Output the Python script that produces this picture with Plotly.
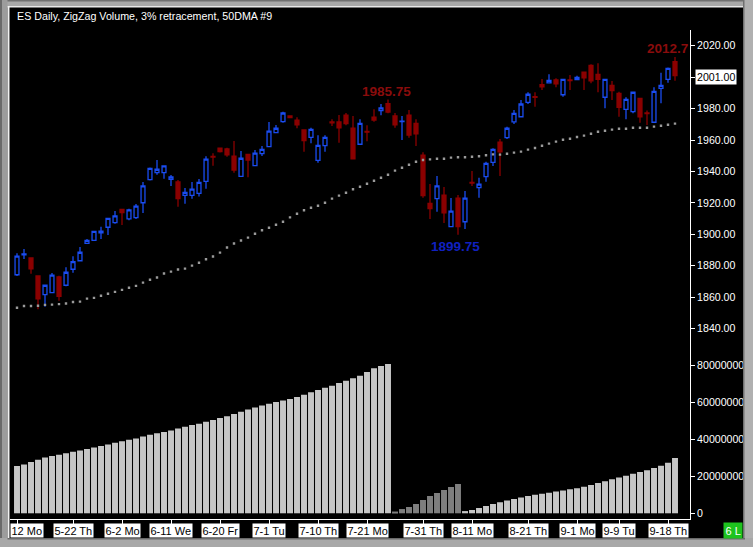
import plotly.graph_objects as go

# ---------------- data ----------------
dates = [
    "2014-05-12", "2014-05-13", "2014-05-14", "2014-05-15", "2014-05-16", "2014-05-19", "2014-05-20",
    "2014-05-21", "2014-05-22", "2014-05-23", "2014-05-26", "2014-05-27", "2014-05-28", "2014-05-29",
    "2014-05-30", "2014-06-02", "2014-06-03", "2014-06-04", "2014-06-05", "2014-06-06", "2014-06-09",
    "2014-06-10", "2014-06-11", "2014-06-12", "2014-06-13", "2014-06-16", "2014-06-17", "2014-06-18",
    "2014-06-19", "2014-06-20", "2014-06-23", "2014-06-24", "2014-06-25", "2014-06-26", "2014-06-27",
    "2014-06-30", "2014-07-01", "2014-07-02", "2014-07-03", "2014-07-04", "2014-07-07", "2014-07-08",
    "2014-07-09", "2014-07-10", "2014-07-11", "2014-07-14", "2014-07-15", "2014-07-16", "2014-07-17",
    "2014-07-18", "2014-07-21", "2014-07-22", "2014-07-23", "2014-07-24", "2014-07-25", "2014-07-28",
    "2014-07-29", "2014-07-30", "2014-07-31", "2014-08-01", "2014-08-04", "2014-08-05", "2014-08-06",
    "2014-08-07", "2014-08-08", "2014-08-11", "2014-08-12", "2014-08-13", "2014-08-14", "2014-08-15",
    "2014-08-18", "2014-08-19", "2014-08-20", "2014-08-21", "2014-08-22", "2014-08-25", "2014-08-26",
    "2014-08-27", "2014-08-28", "2014-08-29", "2014-09-01", "2014-09-02", "2014-09-03", "2014-09-04",
    "2014-09-05", "2014-09-08", "2014-09-09", "2014-09-10", "2014-09-11", "2014-09-12", "2014-09-15",
    "2014-09-16", "2014-09-17", "2014-09-18", "2014-09-19",
]

opens = [
    1874.3, 1887.0, 1885.0, 1873.5, 1861.6, 1862.9, 1872.9, 1867.6, 1877.8, 1883.2,
    1894.2, 1896.2, 1901.0, 1904.5, 1907.4, 1915.9, 1909.8, 1910.6, 1920.1, 1934.8,
    1939.2, 1939.2, 1935.0, 1933.3, 1924.8, 1924.8, 1926.1, 1933.7, 1949.6, 1954.9,
    1954.3, 1949.8, 1936.9, 1950.9, 1943.7, 1951.3, 1955.8, 1964.7, 1971.7, 1975.3,
    1972.7, 1966.4, 1961.7, 1947.1, 1956.4, 1971.5, 1971.5, 1975.9, 1967.6, 1957.3,
    1965.5, 1974.6, 1978.7, 1983.1, 1975.3, 1971.7, 1975.9, 1970.6, 1950.3, 1919.7,
    1922.7, 1925.0, 1904.9, 1923.1, 1908.0, 1933.0, 1929.7, 1936.7, 1945.8, 1958.7,
    1961.5, 1971.5, 1974.8, 1984.0, 1987.6, 1995.2, 1996.3, 1998.2, 1988.8, 1998.2,
    1998.4, 2003.1, 2007.5, 2001.8, 1987.2, 1994.8, 1989.7, 1979.5, 1978.0, 1986.5,
    1977.2, 1971.3, 1992.9, 1998.6, 2009.8,
]
highs = [
    1888.0, 1890.7, 1885.5, 1874.0, 1868.0, 1875.4, 1873.7, 1879.0, 1886.0, 1892.0,
    1897.0, 1902.0, 1904.9, 1910.5, 1914.8, 1916.0, 1916.3, 1919.3, 1933.3, 1942.5,
    1947.3, 1944.0, 1937.7, 1934.6, 1929.5, 1933.3, 1935.2, 1949.6, 1951.6, 1955.0,
    1955.1, 1959.4, 1953.0, 1951.0, 1953.7, 1956.2, 1971.5, 1969.6, 1978.0, 1975.6,
    1974.5, 1966.6, 1967.8, 1963.0, 1963.0, 1973.2, 1975.9, 1977.2, 1975.3, 1973.2,
    1969.4, 1979.5, 1982.9, 1985.75, 1977.2, 1975.3, 1979.1, 1973.2, 1952.2, 1932.0,
    1937.1, 1930.1, 1923.1, 1925.0, 1927.6, 1940.3, 1936.0, 1946.2, 1954.7, 1960.6,
    1968.5, 1979.1, 1985.5, 1990.4, 1990.4, 1998.8, 2001.8, 1999.3, 1999.0, 2001.4,
    2000.9, 2003.5, 2008.2, 2008.8, 1999.0, 1997.5, 1990.7, 1987.2, 1990.6, 1986.8,
    1978.7, 1993.5, 2002.8, 2006.2, 2012.75,
]
lows = [
    1873.5, 1884.3, 1875.0, 1852.3, 1854.0, 1862.5, 1857.8, 1867.0, 1875.6, 1883.0,
    1894.0, 1895.8, 1897.0, 1899.6, 1906.8, 1905.9, 1909.0, 1909.8, 1913.6, 1934.3,
    1937.9, 1935.4, 1930.8, 1917.6, 1919.5, 1922.7, 1924.0, 1929.0, 1943.7, 1952.0,
    1949.4, 1939.2, 1936.5, 1936.3, 1943.5, 1949.8, 1955.5, 1964.5, 1971.0, 1974.0,
    1967.5, 1952.6, 1957.9, 1945.6, 1952.6, 1968.9, 1958.3, 1969.4, 1947.8, 1957.0,
    1959.2, 1971.7, 1975.7, 1977.0, 1967.8, 1960.0, 1961.5, 1956.2, 1923.3, 1909.8,
    1914.4, 1907.2, 1904.5, 1899.75, 1903.4, 1930.8, 1923.3, 1933.5, 1943.5, 1937.1,
    1960.6, 1970.2, 1974.5, 1982.9, 1981.2, 1991.8, 1996.0, 1993.5, 1987.6, 1991.8,
    1998.0, 1991.8, 1996.1, 1990.4, 1980.2, 1985.5, 1974.8, 1973.2, 1977.0, 1971.0,
    1969.6, 1970.8, 1983.4, 1996.5, 1997.7,
]
closes = [
    1886.2, 1887.5, 1878.1, 1858.9, 1867.6, 1874.1, 1860.6, 1875.9, 1882.6, 1888.6,
    1896.2, 1901.9, 1902.0, 1910.2, 1911.7, 1913.8, 1915.5, 1918.0, 1930.8, 1942.0,
    1941.4, 1943.5, 1936.5, 1922.7, 1926.7, 1928.7, 1933.1, 1947.9, 1949.2, 1952.6,
    1950.5, 1940.9, 1948.4, 1947.3, 1951.6, 1954.1, 1965.7, 1967.5, 1977.2, 1974.2,
    1969.7, 1959.6, 1966.8, 1956.6, 1961.7, 1971.0, 1967.8, 1970.4, 1948.1, 1970.6,
    1965.0, 1972.7, 1980.4, 1977.8, 1969.7, 1972.0, 1963.2, 1964.0, 1924.6, 1916.3,
    1930.8, 1913.6, 1914.8, 1904.9, 1923.1, 1932.6, 1932.0, 1945.2, 1954.1, 1952.4,
    1967.5, 1977.0, 1982.9, 1989.1, 1987.2, 1993.9, 1998.0, 1995.8, 1998.6, 1997.8,
    1999.9, 1999.6, 1997.7, 1998.6, 1998.6, 1991.4, 1980.8, 1985.9, 1990.4, 1974.8,
    1976.8, 1991.0, 1994.8, 2005.6, 2001.0,
]

ma50 = [
    1853.3, 1854.4, 1854.4, 1854.6, 1855.1, 1855.3, 1855.6, 1856.0, 1857.0, 1857.2,
    1859.1, 1859.6, 1860.9, 1862.2, 1863.4, 1864.7, 1866.0, 1867.2, 1869.3, 1871.1,
    1872.5, 1875.1, 1876.3, 1877.6, 1878.2, 1880.1, 1881.9, 1884.2, 1885.9, 1888.4,
    1891.6, 1894.2, 1896.1, 1897.9, 1900.4, 1902.6, 1904.2, 1906.1, 1908.0, 1910.8,
    1913.1, 1915.3, 1916.9, 1918.2, 1920.1, 1922.7, 1924.6, 1926.5, 1928.7, 1930.3,
    1932.2, 1934.1, 1936.0, 1937.9, 1940.5, 1942.4, 1944.3, 1946.2, 1947.3, 1947.7,
    1948.1, 1948.1, 1948.8, 1949.0, 1949.0, 1949.4, 1949.7, 1950.3, 1950.9, 1950.7,
    1951.3, 1952.0, 1952.6, 1953.9, 1954.9, 1956.4, 1957.7, 1959.0, 1960.2, 1960.8,
    1961.9, 1962.8, 1964.0, 1965.3, 1965.9, 1966.6, 1967.2, 1967.2, 1967.8, 1967.8,
    1967.8, 1968.5, 1969.1, 1969.7, 1970.4,
]

# ZigZag cumulative volume (millions of contracts) and swing leg of each bar
zz_volume_m = [
    25.6, 26.5, 27.8, 29.0, 30.2, 31.0, 31.8, 32.6, 33.4, 34.0,
    34.8, 35.6, 36.5, 37.3, 38.2, 39.0, 39.8, 40.6, 41.6, 42.6,
    43.4, 44.1, 44.9, 46.0, 46.9, 47.8, 48.6, 49.6, 50.6, 51.6,
    52.6, 53.8, 55.0, 56.2, 57.4, 58.4, 59.4, 60.3, 61.2, 62.0,
    63.0, 64.3, 65.6, 66.8, 68.0, 69.2, 70.6, 71.8, 73.2, 74.6,
    76.6, 78.6, 79.8, 80.9,
    0.7, 2.3, 3.4, 5.0, 7.2, 9.4, 11.0, 12.6, 14.3, 15.9,
    1.2, 1.8, 2.9, 4.0, 5.0, 6.0, 7.0, 7.8, 8.6, 9.4,
    10.0, 10.6, 11.2, 11.8, 12.4, 13.0, 13.6, 14.4, 15.4, 16.4,
    17.4, 18.4, 19.4, 20.4, 21.4, 22.4, 23.4, 24.5, 25.8, 27.4, 30.0,
]
zz_leg = ["up"] * 54 + ["down"] * 10 + ["up"] * 31

tick_dates = ["2014-05-12", "2014-05-22", "2014-06-02", "2014-06-11", "2014-06-20", "2014-07-01",
              "2014-07-10", "2014-07-21", "2014-07-31", "2014-08-11", "2014-08-21", "2014-09-01",
              "2014-09-09", "2014-09-18"]
tick_labels = ["12 Mo", "5-22 Th", "6-2 Mo", "6-11 We", "6-20 Fr", "7-1 Tu", "7-10 Th",
               "7-21 Mo", "7-31 Th", "8-11 Mo", "8-21 Th", "9-1 Mo", "9-9 Tu", "9-18 Th"]

swing_high = ("2014-07-24", 1985.75, "1985.75")
swing_low = ("2014-08-07", 1899.75, "1899.75")
last_high = ("2014-09-19", 2012.75, "2012.7")
last_close = 2001.00
title_text = "ES Daily, ZigZag Volume, 3% retracement, 50DMA #9"

# ---------------- layout helpers ----------------
W, H = 753, 547
ML, MR, MT, MB = 10, 63, 22, 28
PW, PH = W - ML - MR, H - MT - MB


def px_x(px):
    return (px - ML) / PW


def px_y(py):
    return (H - MB - py) / PH


FONT = "Liberation Sans, Arial, sans-serif"
BLUE = "#1a4cf0"
RED = "#8b0000"

fig = go.Figure()

fig.add_trace(go.Candlestick(
    x=dates, open=opens, high=highs, low=lows, close=closes,
    increasing=dict(line=dict(color=BLUE, width=1.3), fillcolor="rgba(0,0,0,0)"),
    decreasing=dict(line=dict(color=RED, width=1.3), fillcolor=RED),
    whiskerwidth=0, hoverinfo="skip", xaxis="x", yaxis="y",
))

fig.add_trace(go.Scatter(
    x=dates, y=ma50, mode="markers",
    marker=dict(symbol="square", size=2.4, color="#9a9a9a", line=dict(width=0)),
    hoverinfo="skip", xaxis="x", yaxis="y",
))

fig.add_trace(go.Bar(
    x=dates, y=[v * 1e6 for v in zz_volume_m],
    marker=dict(color=["#c6c6c6" if s == "up" else "#7e7e7e" for s in zz_leg], line=dict(width=0)),
    hoverinfo="skip", xaxis="x", yaxis="y2",
))

PRICE_DOM = [0.345, px_y(30)]
VOL_DOM = [0.0, 0.345]


def price_at(py):
    return 2020 - (py - 45.7) / 1.572


def vol_at(py):
    return (513.3 - py) / 36.9 * 20e6


fig.update_layout(
    width=W, height=H,
    margin=dict(l=ML, r=MR, t=MT, b=MB, pad=0, autoexpand=False),
    paper_bgcolor="#000000", plot_bgcolor="#000000",
    showlegend=False, hovermode=False,
    bargap=0.15, boxgap=0.2, boxgroupgap=0.3,
    font=dict(family=FONT, color="#ffffff", size=11),
    xaxis=dict(
        type="category", categoryorder="array", categoryarray=dates,
        range=[-1, -1 + PW / 7.0], anchor="y2",
        rangeslider=dict(visible=False),
        showgrid=False, zeroline=False,
        showline=True, linecolor="#ffffff", linewidth=1,
        tickmode="array", tickvals=tick_dates, ticktext=[""] * len(tick_dates),
        ticks="outside", ticklen=5, tickcolor="#ffffff", tickwidth=1,
        showticklabels=False,
    ),
    yaxis=dict(
        domain=PRICE_DOM, range=[price_at(519 - PRICE_DOM[0] * PH), price_at(30)],
        side="right", anchor="x",
        showgrid=False, zeroline=False,
        showline=True, linecolor="#ffffff", linewidth=1,
        tickmode="array", tickvals=list(range(1840, 2021, 20)),
        tickformat=".2f",
        ticks="outside", ticklen=4, tickcolor="#ffffff",
        tickfont=dict(family=FONT, size=10.6, color="#ffffff"),
    ),
    yaxis2=dict(
        domain=VOL_DOM, range=[vol_at(519), vol_at(519 - VOL_DOM[1] * PH)],
        side="right", anchor="x",
        showgrid=False, zeroline=False,
        showline=True, linecolor="#ffffff", linewidth=1,
        tickmode="array", tickvals=[0, 20e6, 40e6, 60e6, 80e6],
        ticktext=["0", "20000000", "40000000", "60000000", "80000000"],
        ticks="outside", ticklen=4, tickcolor="#ffffff",
        tickfont=dict(family=FONT, size=10.6, color="#ffffff"),
    ),
)

ann = []
ann.append(dict(text=title_text, xref="paper", yref="paper", x=px_x(15), y=px_y(15.5),
                xanchor="left", yanchor="middle", showarrow=False,
                font=dict(family=FONT, size=10.7, color="#ffffff")))
for d, t in zip(tick_dates, tick_labels):
    if t == tick_labels[0]:
        ann.append(dict(text=t, xref="paper", yref="paper", x=px_x(10), y=px_y(530.5),
                        xanchor="left", yanchor="middle", showarrow=False,
                        bgcolor="#ffffff", borderpad=0.5,
                        font=dict(family=FONT, size=11, color="#000000")))
    else:
        ann.append(dict(text=t, xref="x", yref="paper", x=d, y=px_y(530.5),
                        xanchor="center", yanchor="middle", showarrow=False,
                        bgcolor="#ffffff", borderpad=0.5,
                        font=dict(family=FONT, size=11, color="#000000")))
ann.append(dict(text=swing_high[2], xref="x", yref="y", x=swing_high[0], y=swing_high[1],
                xanchor="center", yanchor="middle", xshift=-2, yshift=8.5, showarrow=False,
                font=dict(family=FONT, size=13.5, color="#8a0c0c", weight="bold")))
ann.append(dict(text=swing_low[2], xref="x", yref="y", x=swing_low[0], y=swing_low[1],
                xanchor="center", yanchor="middle", xshift=-3, yshift=-11.8, showarrow=False,
                font=dict(family=FONT, size=13.5, color="#1020c0", weight="bold")))
ann.append(dict(text=last_high[2], xref="paper", yref="y", x=px_x(690), y=last_high[1],
                xanchor="right", yanchor="middle", yshift=9, showarrow=False,
                font=dict(family=FONT, size=13.5, color="#8a0c0c", weight="bold")))
ann.append(dict(text=f"{last_close:.2f}", xref="paper", yref="y", x=px_x(695), y=last_close,
                xanchor="left", yanchor="middle", yshift=-1, showarrow=False,
                bgcolor="#ffffff", borderpad=1,
                font=dict(family=FONT, size=10.6, color="#000000")))
ann.append(dict(text="6 L", xref="paper", yref="paper", x=px_x(732.5), y=px_y(530.3),
                xanchor="center", yanchor="middle", showarrow=False,
                bgcolor="#1ec31e", borderpad=1.5,
                font=dict(family=FONT, size=11, color="#ffffff")))
fig.update_layout(annotations=ann)

shapes = []


def rect(x0, y0, x1, y1, color):
    shapes.append(dict(type="rect", xref="paper", yref="paper",
                       x0=px_x(x0), x1=px_x(x1), y0=px_y(y1), y1=px_y(y0),
                       fillcolor=color, line=dict(width=0), layer="above"))


rect(0, 0, 753, 6, "#a8a8a8")
rect(0, 0, 753, 1.5, "#707070")
rect(7.5, 6, 743, 7.5, "#e8e8e8")
rect(0, 0, 7.5, 547, "#9c9c9c")
rect(0, 0, 2, 547, "#6a6a6a")
rect(7.5, 6, 9.5, 538, "#f2f2f2")
rect(743, 0, 753, 547, "#b0b0b0")
rect(743, 0, 744.5, 540, "#707070")
rect(0, 538, 753, 547, "#a8a8a8")
rect(7.5, 538, 745, 539.5, "#6a6a6a")
fig.update_layout(shapes=shapes)

fig.write_html("out.html", config={"displayModeBar": False},
               post_script="document.body.style.margin='0px';")
